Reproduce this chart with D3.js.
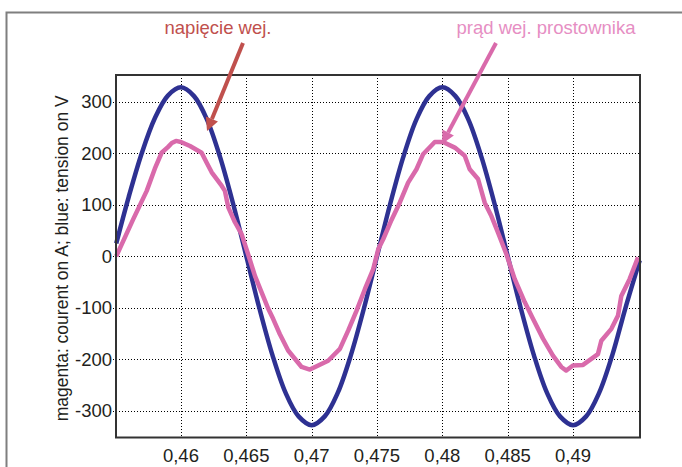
<!DOCTYPE html>
<html lang="pl">
<head>
  <meta charset="UTF-8" />
  <title>napięcie i prąd wejściowy prostownika</title>
  <script src="https://d3js.org/d3.v7.min.js"></script>
  <style>
    body { margin: 0; background: #fff; }
    svg { display: block; font-family: 'Liberation Sans', Arial, sans-serif; }
  </style>
</head>
<body>
  <div id="chart"></div>
  <script>
    // time axis ticks
    const xTicks = [0.46, 0.465, 0.47, 0.475, 0.48, 0.485, 0.49];
    const xTickLabels = ["0,46", "0,465", "0,47", "0,475", "0,48", "0,485", "0,49"];
    const yTicks = [-300, -200, -100, 0, 100, 200, 300];

    // blue: input voltage [V]
    const voltageTime = [0.45505, 0.456, 0.457, 0.458, 0.459, 0.460, 0.461, 0.462, 0.463, 0.464,
      0.465, 0.466, 0.467, 0.468, 0.469, 0.470, 0.471, 0.472, 0.473, 0.474,
      0.475, 0.476, 0.477, 0.478, 0.479, 0.480, 0.481, 0.482, 0.483, 0.484,
      0.485, 0.486, 0.487, 0.488, 0.489, 0.490, 0.491, 0.492, 0.493, 0.494, 0.4951];
    const voltageValue = [25, 115, 200, 268, 312, 328, 311, 265, 192, 101,
      0, -101, -192, -265, -311, -328, -311, -265, -192, -101,
      0, 101, 192, 265, 311, 328, 311, 265, 192, 101,
      0, -101, -192, -265, -311, -328, -311, -265, -192, -101, -8];

    // magenta: rectifier input current [A]
    const currentTime = [0.45505, 0.45635, 0.45738, 0.4580, 0.45852, 0.4590, 0.4593, 0.45962, 0.4600, 0.46069, 0.46158, 0.46196,
      0.46235, 0.46311, 0.46336, 0.46362, 0.46413, 0.46464, 0.46515, 0.46566, 0.46617, 0.46668,
      0.46706, 0.46756, 0.4682, 0.46884, 0.46923, 0.46986, 0.4705, 0.47126, 0.47216, 0.4728,
      0.47343, 0.47407, 0.47471, 0.4751, 0.47547, 0.4761, 0.47674, 0.47738, 0.47802, 0.47852,
      0.47942, 0.48005, 0.48095, 0.48171, 0.48209, 0.48273, 0.48324, 0.48375, 0.48426, 0.4849,
      0.48553, 0.4863, 0.48694, 0.4877, 0.48846, 0.4891, 0.48948, 0.48999, 0.49076, 0.4919,
      0.49216, 0.49293, 0.49344, 0.49369, 0.49433, 0.49497];
    const currentValue = [0, 72, 127, 170, 201, 212, 220, 224, 222, 214, 201, 182,
      163, 137, 127, 95, 66, 43, 3, -38, -70, -102,
      -122, -151, -183, -203, -215, -220, -212, -203, -180, -144,
      -106, -64, -25, 14, 33, 70, 104, 143, 169, 198,
      222, 222, 211, 195, 169, 150, 104, 78, 46, 4,
      -44, -89, -122, -160, -193, -215, -222, -212, -211, -190,
      -164, -141, -115, -77, -44, -2];

    const width = 682, height = 467;
    const margin = { top: 75, right: 42, bottom: 29.5, left: 116 };

    const svg = d3.select("#chart").append("svg")
      .attr("width", width)
      .attr("height", height);

    // outer frame (only top/left visible)
    svg.append("rect")
      .attr("x", 6.5).attr("y", 12.5)
      .attr("width", 720).attr("height", 520)
      .attr("fill", "none")
      .attr("stroke", "#7f7f7f")
      .attr("stroke-width", 2);

    const x = d3.scaleLinear()
      .domain([0.45503, 0.49512])
      .range([margin.left, width - margin.right]);
    const y = d3.scaleLinear()
      .domain([-352, 352])
      .range([height - margin.bottom, margin.top]);

    // grid
    const grid = svg.append("g")
      .attr("stroke", "#000")
      .attr("stroke-width", 1)
      .attr("stroke-dasharray", "1,2");
    grid.selectAll("line.v").data(xTicks).join("line")
      .attr("x1", d => Math.round(x(d)) + 0.5).attr("x2", d => Math.round(x(d)) + 0.5)
      .attr("y1", margin.top).attr("y2", height - margin.bottom);
    grid.selectAll("line.h").data(yTicks).join("line")
      .attr("y1", d => Math.round(y(d)) + 0.5).attr("y2", d => Math.round(y(d)) + 0.5)
      .attr("x1", margin.left - 3).attr("x2", width - margin.right);

    // tick labels
    svg.append("g")
      .selectAll("text").data(yTicks).join("text")
      .attr("x", margin.left - 4)
      .attr("y", d => y(d))
      .attr("dy", "0.35em")
      .attr("text-anchor", "end")
      .attr("font-size", 18.5)
      .attr("fill", "#231f20")
      .text(d => d);

    svg.append("g")
      .selectAll("text").data(xTicks).join("text")
      .attr("x", d => x(d))
      .attr("y", height - margin.bottom + 24)
      .attr("text-anchor", "middle")
      .attr("font-size", 18.5)
      .attr("fill", "#231f20")
      .text((d, i) => xTickLabels[i]);

    svg.append("text")
      .attr("transform", `translate(68,${(margin.top + height - margin.bottom) / 2 + 2}) rotate(-90)`)
      .attr("text-anchor", "middle")
      .attr("font-size", 17.5)
      .attr("fill", "#231f20")
      .text("magenta: courent on A; blue: tension on V");

    const voltage = d3.zip(voltageTime, voltageValue);
    const current = d3.zip(currentTime, currentValue);

    svg.append("path")
      .datum(voltage)
      .attr("fill", "none")
      .attr("stroke", "#2e3192")
      .attr("stroke-width", 4.5)
      .attr("stroke-linejoin", "round")
      .attr("d", d3.line().x(d => x(d[0])).y(d => y(d[1])).curve(d3.curveCatmullRom));

    svg.append("path")
      .datum(current)
      .attr("fill", "none")
      .attr("stroke", "#d96aab")
      .attr("stroke-width", 4.5)
      .attr("stroke-linejoin", "round")
      .attr("d", d3.line().x(d => x(d[0])).y(d => y(d[1])));

    // plot frame
    svg.append("rect")
      .attr("x", margin.left).attr("y", margin.top)
      .attr("width", width - margin.left - margin.right)
      .attr("height", height - margin.top - margin.bottom)
      .attr("fill", "none")
      .attr("stroke", "#333")
      .attr("stroke-width", 2);

    // annotations
    function arrow(x1, y1, x2, y2, color) {
      const ang = Math.atan2(y2 - y1, x2 - x1);
      const len = 13, half = 6.5;
      const bx = x2 - len * Math.cos(ang), by = y2 - len * Math.sin(ang);
      svg.append("line")
        .attr("x1", x1).attr("y1", y1).attr("x2", bx).attr("y2", by)
        .attr("stroke", color).attr("stroke-width", 4);
      svg.append("path")
        .attr("d", `M${x2},${y2}L${bx + half * Math.sin(ang)},${by - half * Math.cos(ang)}L${bx - half * Math.sin(ang)},${by + half * Math.cos(ang)}Z`)
        .attr("fill", color);
    }

    svg.append("text")
      .attr("x", 218).attr("y", 34)
      .attr("text-anchor", "middle")
      .attr("font-size", 18.5)
      .attr("fill", "#c0504d")
      .text("napięcie wej.");
    arrow(243, 43, 207, 131, "#c0504d");

    svg.append("text")
      .attr("x", 546).attr("y", 34)
      .attr("text-anchor", "middle")
      .attr("font-size", 18.5)
      .attr("fill", "#e68ec3")
      .text("prąd wej. prostownika");
    arrow(496, 43, 442, 144, "#d96aab");
  </script>
</body>
</html>
